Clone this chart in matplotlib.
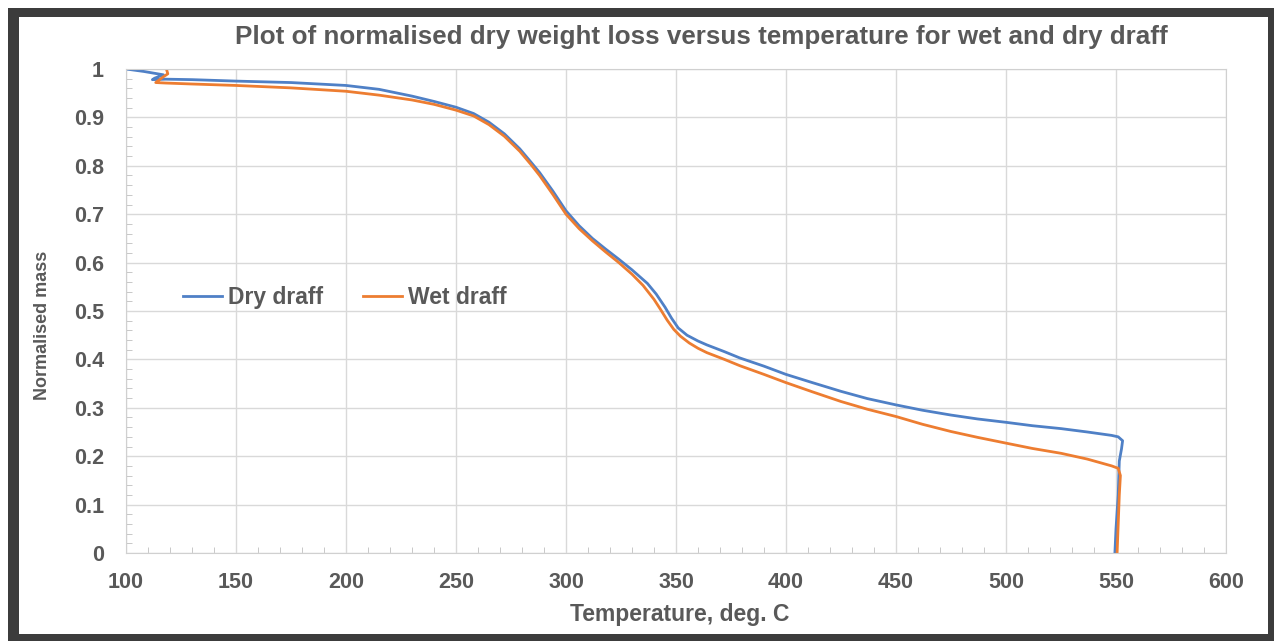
import matplotlib
matplotlib.use("Agg")
import matplotlib.pyplot as plt
from matplotlib.patches import Rectangle
from matplotlib.ticker import MultipleLocator

# Dry draff
dry_temp = [100, 108, 117, 113, 112, 118, 130, 150, 175, 200, 215, 230, 240, 250,
            258, 265, 272, 279, 284, 288, 294, 300, 306, 312, 318, 324, 330, 337,
            341, 345, 348, 351, 355, 360, 364, 372, 379, 390, 400, 412, 425, 437,
            450, 462, 475, 487, 500, 512, 525, 537, 548, 551, 553, 552.5, 551.5,
            551, 550, 549.5]
dry_mass = [1.000, 0.995, 0.988, 0.981, 0.978, 0.979, 0.978, 0.975, 0.972, 0.966,
            0.958, 0.944, 0.933, 0.921, 0.908, 0.890, 0.866, 0.835, 0.808, 0.786,
            0.748, 0.707, 0.676, 0.650, 0.628, 0.607, 0.585, 0.557, 0.535, 0.508,
            0.485, 0.465, 0.450, 0.438, 0.430, 0.416, 0.403, 0.386, 0.369, 0.352,
            0.334, 0.319, 0.306, 0.295, 0.285, 0.277, 0.270, 0.263, 0.257, 0.250,
            0.243, 0.240, 0.232, 0.215, 0.190, 0.120, 0.050, 0.000]

# Wet draff
wet_temp = [118.5, 119, 117, 113.5, 118, 130, 150, 175, 200, 215, 230, 240, 250,
            258, 265, 272, 279, 284, 288, 294, 300, 306, 312, 318, 324, 330, 335,
            340, 343, 346, 349, 352, 356, 360, 364, 372, 379, 390, 400, 412, 425,
            437, 450, 462, 475, 487, 500, 512, 525, 537, 548, 551, 552, 551.5,
            551, 550.5]
wet_mass = [0.998, 0.990, 0.984, 0.972, 0.971, 0.969, 0.966, 0.961, 0.954, 0.946,
            0.936, 0.927, 0.915, 0.903, 0.885, 0.861, 0.830, 0.803, 0.780, 0.741,
            0.700, 0.670, 0.645, 0.622, 0.600, 0.576, 0.553, 0.524, 0.503, 0.481,
            0.462, 0.448, 0.434, 0.423, 0.414, 0.400, 0.387, 0.369, 0.352, 0.333,
            0.313, 0.297, 0.282, 0.266, 0.251, 0.239, 0.227, 0.216, 0.206, 0.194,
            0.180, 0.175, 0.160, 0.120, 0.060, 0.000]

plt.rcParams['font.family'] = ['Liberation Sans', 'DejaVu Sans']
txt = '#595959'

fig = plt.figure(figsize=(12.74, 6.41), dpi=100)
W, H = 1274, 641
# dark frame round the chart
fig.patches.append(Rectangle((8 / W, 0), 1266 / W, 633 / H, transform=fig.transFigure,
                             facecolor='#3c3c3c', edgecolor='none', zorder=-10))
fig.patches.append(Rectangle((19 / W, 7 / H), 1249 / W, 617 / H, transform=fig.transFigure,
                             facecolor='white', edgecolor='none', zorder=-9))

ax = fig.add_axes([126 / W, 1 - 553 / H, 1100 / W, 484 / H])
ax.set_facecolor('none')
ax.plot(dry_temp, dry_mass, color='#4f80c6', lw=2, label='Dry draff')
ax.plot(wet_temp, wet_mass, color='#ed7d31', lw=2, label='Wet draff')

ax.set_xlim(100, 600)
ax.set_ylim(0, 1)
ax.xaxis.set_major_locator(MultipleLocator(50))
ax.xaxis.set_minor_locator(MultipleLocator(10))
ax.yaxis.set_minor_locator(MultipleLocator(0.02))
ax.set_yticks([i / 10 for i in range(11)])
ax.set_yticklabels(['0'] + [f'{i / 10:.1f}' for i in range(1, 10)] + ['1'])
ax.grid(True, which='major', color='#d9d9d9', lw=1)
ax.tick_params(which='major', length=0, labelsize=15.5, labelcolor=txt)
ax.tick_params(axis='x', which='major', pad=14)
ax.tick_params(axis='y', which='major', pad=16)
ax.tick_params(which='minor', direction='in', length=4, color='#bfbfbf')
for lab in ax.get_xticklabels() + ax.get_yticklabels():
    lab.set_fontweight('bold')
for s in ax.spines.values():
    s.set_color('#d0d0d0')

leg = ax.legend(loc='center left', bbox_to_anchor=(0.052, 0.527), ncol=2, frameon=False,
                prop={'weight': 'bold', 'size': 16.5}, handlelength=1.7,
                handletextpad=0.25, columnspacing=1.75, borderpad=0, borderaxespad=0)
for t in leg.get_texts():
    t.set_color(txt)

fig.text(701 / W, 1 - 37 / H,
         'Plot of normalised dry weight loss versus temperature for wet and dry draff',
         ha='center', va='center', fontsize=18.7, fontweight='bold', color=txt)
fig.text(680 / W, 1 - 615 / H, 'Temperature, deg. C', ha='center', va='center',
         fontsize=16.5, fontweight='bold', color=txt)
fig.text(43 / W, 1 - 325 / H, 'Normalised mass', ha='center', va='center',
         rotation=90, fontsize=13, fontweight='bold', color=txt)

fig.savefig('out.png', dpi=100)
